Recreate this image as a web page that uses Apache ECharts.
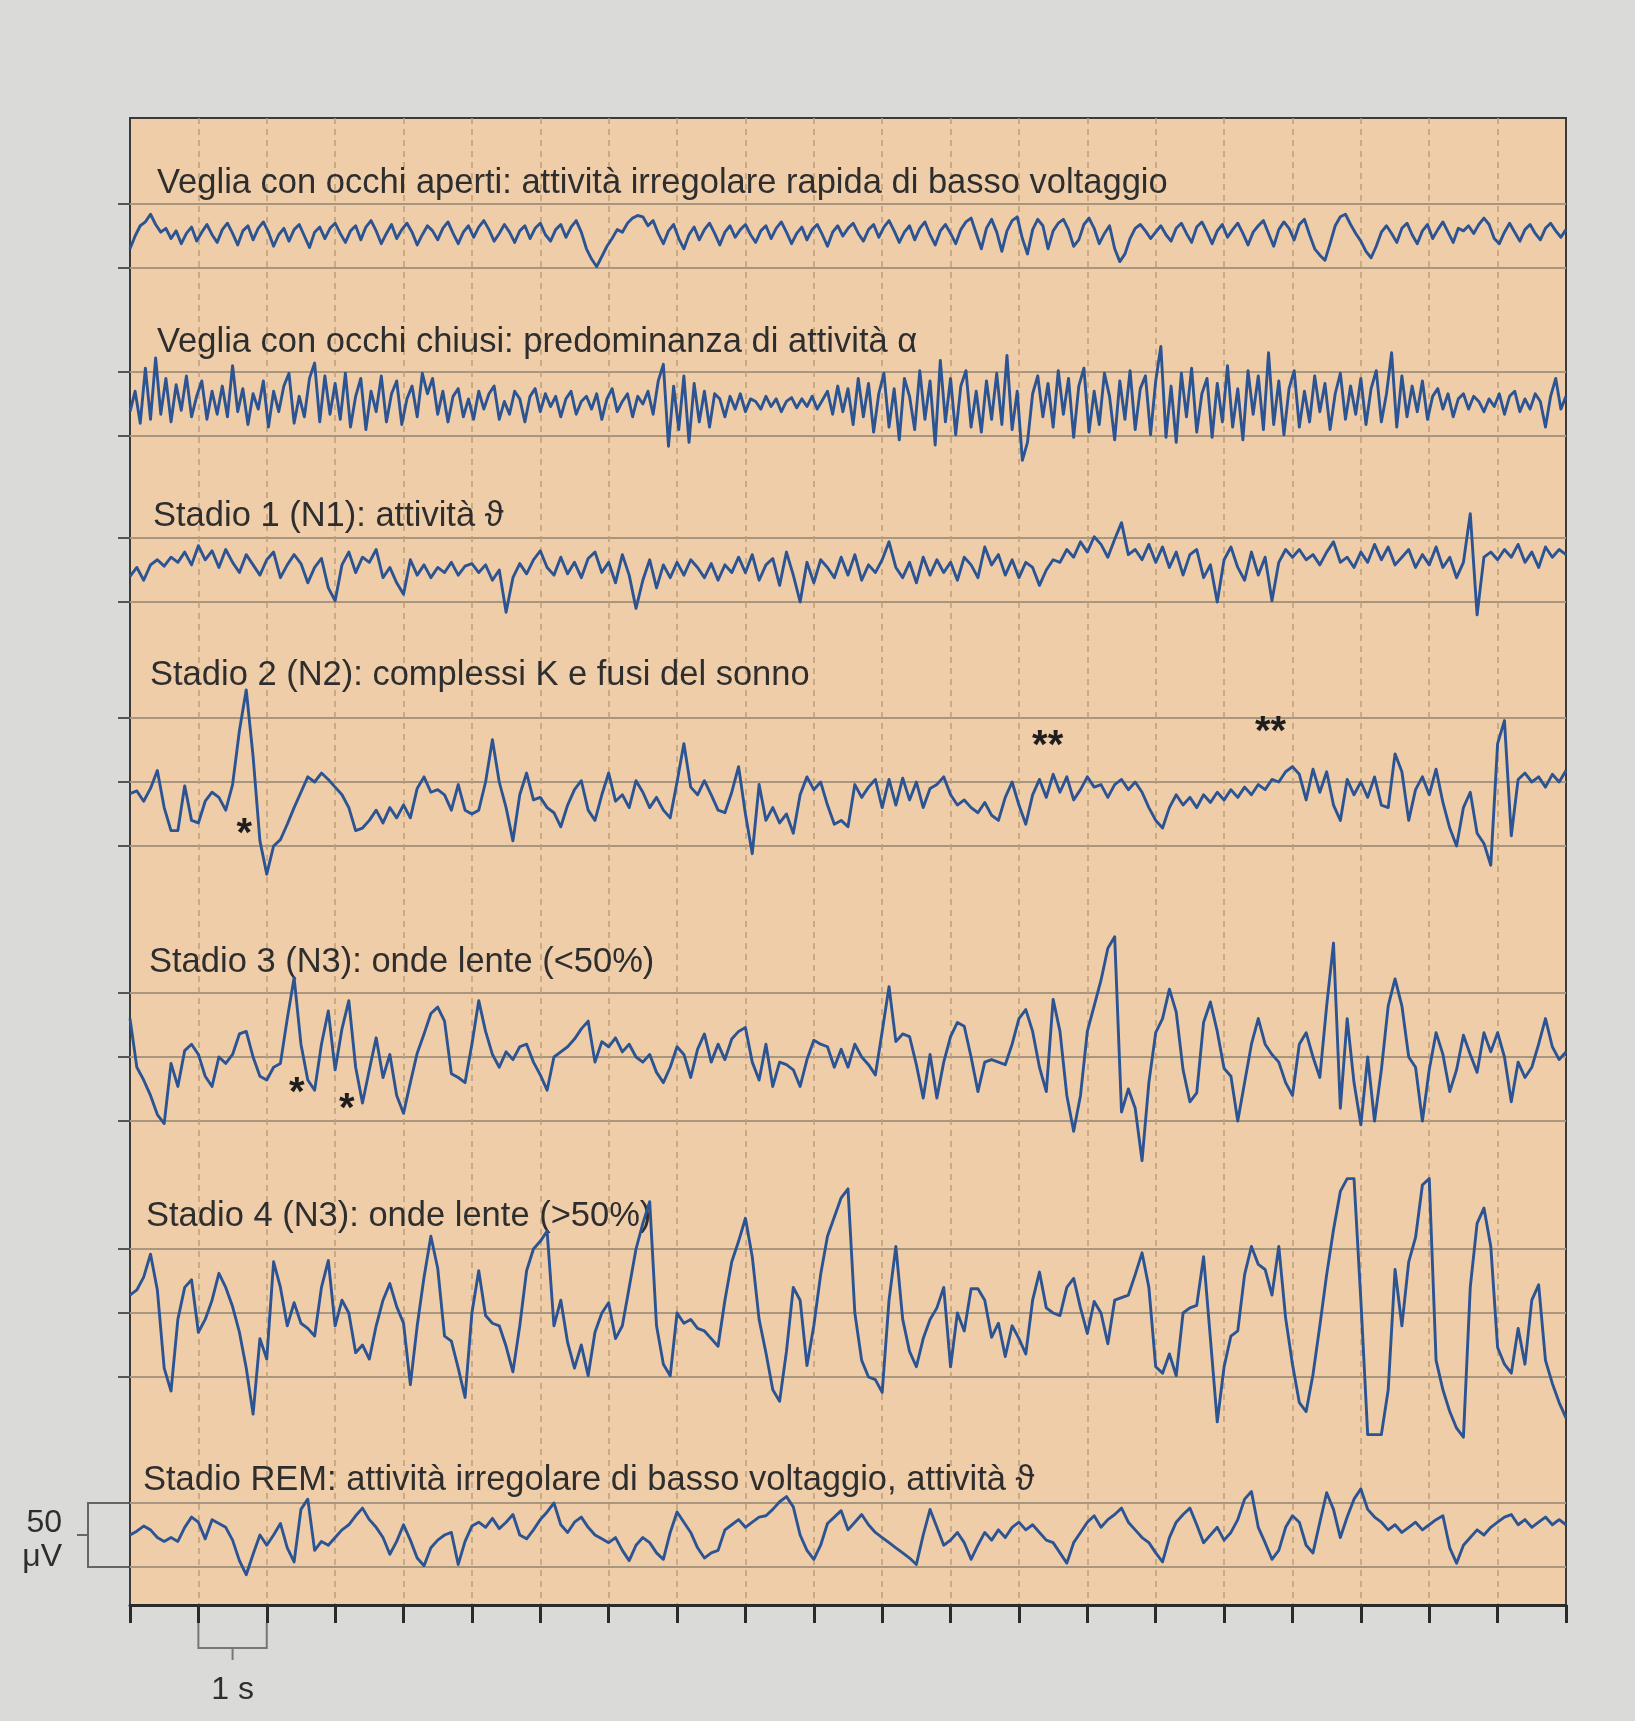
<!DOCTYPE html>
<html>
<head>
<meta charset="utf-8">
<title>EEG - stadi del sonno</title>
<script src="https://cdn.jsdelivr.net/npm/echarts@6/dist/echarts.min.js"></script>
<style>
  html, body { margin: 0; padding: 0; background: #dadad8; }
  #main { width: 1635px; height: 1721px; }
</style>
</head>
<body>
<div id="main"></div>
<script>
// asse del tempo: 21 s, una tacca al secondo
var durata = 21
var passoTacche = 1

// passo di campionamento dei tracciati (s)
var passoVeloce = 0.075
var passoLento = 0.1

// titoli dei tracciati
var titoli = [
  'Veglia con occhi aperti: attività irregolare rapida di basso voltaggio',
  'Veglia con occhi chiusi: predominanza di attività α',
  'Stadio 1 (N1): attività ϑ',
  'Stadio 2 (N2): complessi K e fusi del sonno',
  'Stadio 3 (N3): onde lente (<50%)',
  'Stadio 4 (N3): onde lente (>50%)',
  'Stadio REM: attività irregolare di basso voltaggio, attività ϑ'
]

// tracciati in µV
var vegliaAperti = [
  -10, 0, 8, 11, 17, 9, 3, 6, -2, 4, -6, 2, 7, -4, 3, 9, 1, -5, 5, 10,
  2, -7, 4, 8, -3, 6, 11, 3, -8, 1, 6, -4, 5, 9, 0, -9, 3, 7, -2, 6,
  10, 2, -5, 4, 8, -3, 7, 12, 4, -6, 2, 9, -2, 5, 10, 3, -7, 1, 8, 4,
  -3, 6, 11, 2, -6, 3, 8, -1, 7, 12, 5, -4, 2, 9, 3, -5, 4, 8, -2, 6,
  10, 1, -4, 5, 9, -1, 7, 12, 3, -10, -18, -24, -16, -8, -2, 5, 3, 10, 14, 16,
  15, 8, 12, 2, -6, 4, 9, -2, -10, 1, 7, -3, 5, 10, 2, -7, 3, 8, -1, 5,
  9, 1, -5, 4, 8, -2, 6, 11, 3, -6, 2, 7, -3, 5, 9, 1, -8, 3, 8, 0,
  6, 10, 2, -4, 5, 9, -1, 7, 12, 4, -5, 3, 8, -3, 6, 11, 1, -7, 4, 9,
  2, -6, 5, 11, 14, 2, -10, 6, 13, 3, -12, 4, 12, 15, -2, -14, 5, 13, 8, -10,
  4, 10, 13, 5, -8, -3, 9, 14, 6, -6, 2, 8, -10, -20, -14, -2, 6, 9, 4, -2,
  3, 8, 1, -4, 6, 10, 2, -5, 7, 11, 3, -6, 4, 9, -1, 5, 10, 2, -7, 3,
  8, 12, 2, -8, 5, 11, 6, -3, 9, 13, 1, -10, -15, -19, -6, 8, 15, 17, 9, 2,
  -4, -12, -17, -8, 3, 8, 2, -5, 6, 10, 1, -6, 4, 9, -2, 5, 11, 3, -5, 6,
  4, 8, 2, 9, 14, 9, -2, -6, 3, 10, 3, -4, 5, 9, 2, -3, 6, 10, 4, -1,
  5
]
var vegliaChiusi = [
  -6, 10, -15, 28, -12, 36, -8, 20, -14, 15, -5, 22, -10, 6, 18, -12, 10, -8, 14, -10,
  30, -6, 12, -16, 8, -4, 18, -18, 10, -6, 14, 24, -15, 6, -10, 20, 32, -14, 22, -8,
  16, -12, 24, -18, 6, 20, -20, 10, -6, 22, -14, 8, 18, -16, 4, 14, -10, 24, 8, 20,
  -8, 10, -14, 6, 12, -10, 4, -12, 10, -4, 8, 14, -12, 2, -8, 10, 4, -14, 6, 12,
  -6, 8, -2, 6, -10, 4, 10, -8, 2, 6, -4, 8, -12, 4, 12, -6, 2, 8, -10, 6,
  0, 10, -8, 18, 31, -33, 14, -20, 22, -30, 16, -14, 10, -18, 8, 4, -10, 6, -4, 8,
  -6, 4, 2, -4, 6, -2, 4, -6, 2, 5, -3, 4, -2, 6, -4, 3, 10, -8, 14, -6,
  12, -16, 20, -10, 16, -22, 8, 24, -18, 12, -28, 20, 6, -20, 26, -12, 18, -32, 34, -14,
  20, -24, 14, 26, -18, 10, -22, 18, -12, 24, -16, 38, -20, 10, -44, -30, 8, 22, -10, 16,
  -18, 26, -8, 20, -26, 14, 28, -22, 10, -16, 24, 6, -28, 18, -12, 26, -20, 12, 22, -24,
  18, 45, -26, 14, -30, 24, -10, 28, -22, 8, 20, -26, 16, -14, 30, -18, 12, -28, 26, -8,
  22, -20, 40, -16, 18, -24, 12, 26, -18, 10, -14, 22, -6, 16, -20, 8, 24, -12, 14, -8,
  20, -16, 12, 26, -14, 8, 40, -18, 22, -10, 14, -6, 18, -12, 6, 12, -4, 8, -10, 4,
  8, -4, 6, 2, -6, 4, -2, 8, -8, 6, 10, -6, 4, -4, 8, 2, -18, 6, 20, -4,
  6
]
var stadio1 = [
  -5, 2, -8, 4, 8, 3, 10, 6, 14, 4,
  19, 8, 15, 2, 16, 6, -2, 12, 4, -4,
  8, 14, -6, 4, 12, 5, -10, 2, 9, -14,
  -24, 4, 14, -2, 10, 6, 16, -6, 2, -10,
  -19, 8, -4, 4, -6, 2, -2, 6, -4, 3,
  5, -2, 4, -8, 0, -33, -6, 5, -3, 8,
  15, 2, -4, 10, -3, 6, -6, 9, 14, -2,
  6, -10, 12, -4, -30, -8, 8, -14, 4, -6,
  6, -4, 8, 2, -6, 5, -8, 4, -2, 10,
  -2, 12, -8, 4, 9, -12, 14, -4, -25, 6,
  -10, 8, 2, -6, 10, -4, 12, -8, 4, -2,
  8, 22, 2, -6, 6, -10, 10, -4, 8, -2,
  6, -8, 10, 4, -6, 18, 4, 12, -4, 8,
  -6, 6, 2, -12, 0, 8, 6, 16, 10, 22,
  14, 26, 20, 10, 24, 37, 12, 16, 8, 20,
  6, 18, 2, 14, -4, 12, 16, -6, 4, -25,
  8, 18, 2, -8, 14, -4, 10, -24, 6, 16,
  10, 16, 8, 12, 4, 14, 22, 6, 10, 2,
  14, 6, 20, 8, 18, 4, 10, 16, 2, 12,
  4, 18, 2, 10, -6, 6, 44, -35, 10, 14,
  8, 16, 10, 20, 6, 14, 2, 18, 10, 16,
  12
]
var stadio2 = [
  -9, -7, -15, -5, 9, -20, -38, -38, -3, -30,
  -32, -15, -8, -12, -22, -2, 40, 72, 20, -46,
  -72, -50, -45, -33, -20, -8, 4, 0, 7, 2,
  -4, -10, -20, -38, -36, -30, -22, -32, -20, -28,
  -18, -28, -5, 4, -8, -6, -10, -22, -2, -22,
  -25, -22, 0, 33, 0, -20, -46, -10, 7, -14,
  -12, -20, -24, -35, -18, -6, 1, -22, -30, -10,
  7, -15, -10, -20, 1, -8, -20, -12, -22, -28,
  0, 30, -4, -10, 1, -10, -22, -24, -8, 12,
  -25, -56, -2, -30, -20, -32, -25, -40, -10, 4,
  -6, 0, -18, -33, -30, -35, -2, -12, -4, 2,
  -20, 2, -18, 3, -14, 0, -20, -5, -2, 4,
  -10, -18, -14, -20, -24, -16, -26, -30, -12, 0,
  -18, -33, -10, 2, -12, 6, -8, 4, -14, -6,
  4, -4, -2, -12, -2, 2, -6, 0, -8, -20,
  -30, -36, -20, -10, -18, -12, -20, -10, -16, -8,
  -14, -6, -12, -4, -10, -2, -6, 2, 0, 8,
  12, 6, -14, 10, -8, 8, -18, -30, 2, -10,
  0, -12, 4, -18, -20, 22, 8, -30, -6, 4,
  -10, 10, -16, -36, -50, -20, -8, -40, -48, -65,
  30, 48, -42, 2, 7, 0, 4, -4, 6, 0,
  9
]
var stadio3 = [
  30, -8, -18, -30, -45, -52, -5, -23, 5, 10,
  2, -15, -23, 0, -5, 2, 18, 20, 0, -15,
  -18, -8, -5, 30, 62, 10, -18, -26, 10, 36,
  -10, 22, 44, -8, -36, -10, 15, -16, 2, -30,
  -44, -20, 3, 18, 34, 39, 28, -13, -16, -20,
  10, 44, 20, 2, -8, 4, -2, 8, 10, -4,
  -14, -26, 0, 4, 8, 14, 22, 28, -4, 12,
  8, 15, 4, 10, 0, -4, 2, -12, -20, -8,
  8, 2, -16, 6, 18, -4, 10, -2, 14, 20,
  23, -4, -18, 10, -23, -4, -6, -10, -23, -2,
  13, 10, 8, -8, 6, -8, 10, 0, -6, -14,
  20, 55, 12, 18, 16, -6, -32, 2, -32, -4,
  16, 27, 24, 0, -27, -4, -2, -4, -6, 10,
  30, 37, 20, -8, -27, 45, 20, -30, -58, -30,
  20, 40, 60, 85, 94, -43, -25, -40, -81, -20,
  19, 30, 53, 35, -10, -35, -28, 27, 43, 20,
  -9, -15, -50, -20, 10, 30, 10, 2, -4, -20,
  -30, 10, 19, 0, -16, 40, 89, -40, 30, -20,
  -53, 0, -50, -10, 40, 61, 40, 0, -8, -50,
  -10, 19, 2, -27, -10, 17, 2, -12, 19, 4,
  19, 0, -35, -4, -16, -8, 10, 30, 8, -2,
  4
]
var stadio4 = [
  14, 18, 28, 46, 18, -43, -61, -5, 20, 26,
  -15, -5, 10, 31, 20, 5, -15, -43, -79, -20,
  -36, 40, 20, -10, 8, -8, -12, -18, 20, 41,
  -10, 10, 0, -31, -25, -36, -10, 10, 23, 5,
  -8, -56, -10, 28, 60, 35, -18, -22, -43, -66,
  0, 33, -2, -8, -10, -26, -46, -10, 33, 50,
  56, 64, -10, 10, -23, -43, -25, -49, -15, 0,
  8, -20, -10, 20, 50, 70, 87, -10, -40, -49,
  0, -8, -5, -12, -14, -20, -26, 10, 40, 56,
  74, 44, -5, -31, -60, -69, -30, 20, 10, -41,
  -10, 30, 60, 75, 90, 97, 0, -37, -50, -52,
  -62, 10, 52, -5, -30, -42, -20, -5, 4, 20,
  -42, 0, -14, 19, 19, 10, -19, -8, -34, -10,
  -20, -32, 10, 32, 4, 0, -2, 20, 27, 4,
  -16, 9, 0, -24, 10, 12, 14, 30, 47, 20,
  -42, -47, -32, -49, 0, 4, 6, 44, -20, -85,
  -42, -18, -14, 30, 52, 38, 34, 14, 52, -4,
  -40, -70, -77, -48, -10, 30, 65, 95, 105, 105,
  10, -95, -95, -95, -60, 34, -10, 40, 59, 100,
  105, -37, -60, -77, -90, -97, 20, 70, 82, 52,
  -27, -40, -47, -12, -40, 10, 22, -37, -55, -70,
  -82
]
var stadioRem = [
  0, 3, 7, 4, -2, -5, -2, -5, 6, 14,
  10, -3, 12, 9, 6, -4, -20, -31, -15, 0,
  -8, 0, 9, -10, -21, 20, 28, -12, -5, -8,
  -2, 4, 8, 15, 21, 12, 6, -2, -15, -5,
  8, -4, -18, -24, -10, -4, 0, 2, -23, -5,
  7, 10, 6, 13, 5, 10, 16, 0, -3, 4,
  12, 18, 25, 8, 2, 10, 14, 6, 0, -3,
  -6, -2, -12, -20, -8, -2, -6, -14, -19, 2,
  18, 10, 2, -10, -18, -14, -12, 4, 8, 12,
  6, 10, 14, 15, 20, 26, 30, 22, 0, -12,
  -19, -8, 9, 14, 19, 4, 10, 16, 8, 2,
  -2, -6, -10, -14, -18, -23, 0, 20, 6, -8,
  -4, 2, -6, -19, -8, 2, -4, 4, -2, 6,
  10, 4, 8, 2, -4, -6, -14, -22, -6, 2,
  10, 15, 6, 12, 16, 21, 10, 4, -2, -6,
  -14, -21, -2, 10, 16, 21, 8, -6, 0, 6,
  -4, 2, 12, 28, 34, 6, -6, -19, -12, 6,
  15, 10, -8, -14, 10, 33, 20, -2, 14, 28,
  36, 20, 14, 10, 4, 8, 2, 6, 10, 4,
  8, 12, 15, -10, -22, -8, -2, 4, 0, 6,
  10, 14, 16, 8, 12, 6, 10, 14, 8, 12,
  8
]

// asterischi: [tracciato, tempo (s), µV, testo]
var asterischi = [
  [3, 1.67, -41, '*'],
  [3, 13.42, 27, '**'],
  [3, 16.68, 38, '**'],
  [4, 2.44, -29, '*'],
  [4, 3.17, -41, '*']
]

var serieDati = [vegliaAperti, vegliaChiusi, stadio1, stadio2, stadio3, stadio4, stadioRem]
var passi = [passoVeloce, passoVeloce, passoLento, passoLento, passoLento, passoLento, passoLento]

// impaginazione (pixel)
var sinistra = 130
var destra = 1635 - 1566
var altoPannello = 118
var bassoPannello = 1721 - 1605
var px50 = 64 // pixel per 50 µV
var centri = [236, 404, 570, 782, 1057, 1313, 1535]
var righe = [2, 2, 2, 3, 3, 3, 2]
var posTitoli = [[157, 183], [157, 342], [153, 516], [150, 675], [149, 962], [146, 1216], [143, 1480]]

var carta = '#efcda8'
var bluTraccia = '#2c5493'
var lineaOrizz = '#a8977e'
var lineaVert = '#bf9f76'
var inchiostro = '#2e2e2e'
var fontTesto = '"Liberation Sans", Arial, Helvetica, sans-serif'

var chart = echarts.init(document.getElementById('main'))

var grids = [{
  left: sinistra, right: destra, top: altoPannello, bottom: bassoPannello,
  show: true, backgroundColor: carta, borderColor: '#3a3a3a', borderWidth: 2
}]
var xAxes = [{
  gridIndex: 0, type: 'value', min: 0, max: durata, interval: passoTacche,
  position: 'bottom',
  axisLine: { show: true, lineStyle: { color: '#2b2b2b', width: 3 } },
  axisTick: { show: true, inside: false, length: 18, lineStyle: { color: '#2b2b2b', width: 3 } },
  axisLabel: { show: false },
  splitLine: {
    show: true, showMinLine: false, showMaxLine: false,
    lineStyle: { color: lineaVert, width: 1.5, type: [6, 5] }
  }
}]
var yAxes = [{ gridIndex: 0, type: 'value', min: 0, max: 1, show: false }]
var series = []

serieDati.forEach(function (dati, i) {
  var mezzo = righe[i] === 3 ? 50 : 25
  var h = righe[i] === 3 ? 2 * px50 : px50
  grids.push({ left: sinistra, right: destra, top: centri[i] - h / 2, height: h })
  xAxes.push({ gridIndex: i + 1, type: 'value', min: 0, max: durata, show: false })
  yAxes.push({
    gridIndex: i + 1, type: 'value', min: -mezzo, max: mezzo, interval: 50,
    axisLine: { show: false },
    axisTick: { show: true, inside: false, length: 12, lineStyle: { color: '#555', width: 2 } },
    axisLabel: { show: false },
    splitLine: { show: true, lineStyle: { color: lineaOrizz, width: 2 } }
  })
  series.push({
    name: titoli[i],
    type: 'line',
    xAxisIndex: i + 1,
    yAxisIndex: i + 1,
    data: dati.map(function (v, k) { return [+(k * passi[i]).toFixed(3), v] }),
    showSymbol: false,
    symbol: 'none',
    clip: false,
    z: 3,
    lineStyle: { color: bluTraccia, width: 2.9, join: 'round' }
  })
})

chart.setOption({
  backgroundColor: '#dadad8',
  animation: false,
  grid: grids,
  xAxis: xAxes,
  yAxis: yAxes,
  series: series
})

// testi e scale disegnati sopra il grafico
var grafica = []
titoli.forEach(function (t, i) {
  grafica.push({
    type: 'text', z: 1,
    style: {
      text: t, x: posTitoli[i][0], y: posTitoli[i][1],
      font: '34.5px ' + fontTesto, fill: inchiostro,
      textAlign: 'left', textVerticalAlign: 'middle'
    }
  })
})

asterischi.forEach(function (a) {
  var p = chart.convertToPixel({ gridIndex: a[0] + 1 }, [a[1], a[2]])
  grafica.push({
    type: 'text', z: 5,
    style: {
      text: a[3], x: p[0], y: p[1],
      font: 'bold 40px ' + fontTesto, fill: '#1e1e1e',
      textAlign: 'center', textVerticalAlign: 'middle'
    }
  })
})

// scala 50 µV sul tracciato REM
var ySu = chart.convertToPixel({ yAxisIndex: 7 }, 25)
var yGiu = chart.convertToPixel({ yAxisIndex: 7 }, -25)
var yMezzo = (ySu + yGiu) / 2
grafica.push({
  type: 'polyline', z: 5,
  shape: { points: [[sinistra - 2, ySu], [88, ySu], [88, yGiu], [sinistra - 2, yGiu]] },
  style: { stroke: '#666', lineWidth: 2, fill: null }
})
grafica.push({
  type: 'line', z: 5,
  shape: { x1: 88, y1: yMezzo, x2: 77, y2: yMezzo },
  style: { stroke: '#666', lineWidth: 2 }
})
grafica.push({
  type: 'text', z: 5,
  style: { text: '50', x: 62, y: yMezzo - 12, font: '32px ' + fontTesto, fill: inchiostro, textAlign: 'right', textVerticalAlign: 'middle' }
})
grafica.push({
  type: 'text', z: 5,
  style: { text: 'μV', x: 62, y: yMezzo + 22, font: '32px ' + fontTesto, fill: inchiostro, textAlign: 'right', textVerticalAlign: 'middle' }
})

// scala 1 s sotto l'asse
var x1 = chart.convertToPixel({ xAxisIndex: 0 }, 1)
var x2 = chart.convertToPixel({ xAxisIndex: 0 }, 2)
var yAsse = 1721 - bassoPannello
grafica.push({
  type: 'polyline', z: 5,
  shape: { points: [[x1, yAsse + 18], [x1, yAsse + 43], [x2, yAsse + 43], [x2, yAsse + 18]] },
  style: { stroke: '#777', lineWidth: 2, fill: null }
})
grafica.push({
  type: 'line', z: 5,
  shape: { x1: (x1 + x2) / 2, y1: yAsse + 43, x2: (x1 + x2) / 2, y2: yAsse + 55 },
  style: { stroke: '#777', lineWidth: 2 }
})
grafica.push({
  type: 'text', z: 5,
  style: { text: '1 s', x: (x1 + x2) / 2, y: yAsse + 85, font: '32px ' + fontTesto, fill: inchiostro, textAlign: 'center', textVerticalAlign: 'middle' }
})

chart.setOption({ graphic: { elements: grafica } })
</script>
</body>
</html>
